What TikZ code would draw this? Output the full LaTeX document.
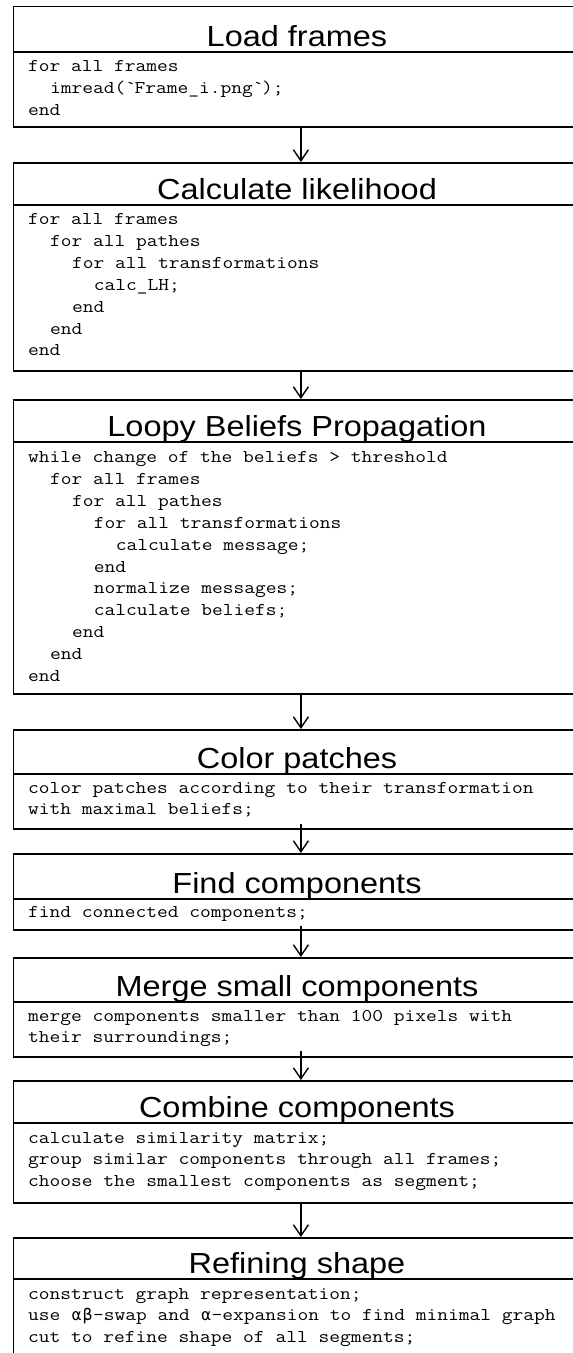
\documentclass[tikz,border=0pt]{standalone}
\usepackage{fontspec}
\newfontfamily\titlefont{Liberation Sans}[FakeStretch=1.12]
\newfontfamily\codefont{Latin Modern Mono}[FakeStretch=1.16]
\newfontfamily\greekfont{DejaVu Sans Mono}
\usetikzlibrary{arrows.meta}
\newcommand\gk[1]{\makebox[10.96pt]{\greekfont\fontsize{16}{20}\selectfont #1}}

\begin{document}
\begin{tikzpicture}[x=1pt, y=-1pt, >={Straight Barb[length=11pt,width=15pt]},
  stepbox/.style={draw, line width=1.8pt, minimum width=575pt,
                  anchor=north west, inner sep=0pt},
  divider/.style={line width=1.8pt},
  ttl/.style={font=\titlefont\fontsize{29}{34}\selectfont, anchor=base, inner sep=0pt},
  code/.style={font=\codefont\fontsize{18}{22}\selectfont, anchor=base west, inner sep=0pt},
  flow/.style={->, line width=1.4pt}]
  \useasboundingbox (0,0) rectangle (573,1353);
  \fill[white] (0,0) rectangle (573,1353);
  \clip (0,0) rectangle (573,1353);

  % Load frames
  \node[stepbox, minimum height=120.5pt] (b1) at (12.5,5.5) {};
  \draw[divider] (b1.west |- 0,52) -- (b1.east |- 0,52);
  \node[ttl] (t1) at (297,46) {Load frames};
  \foreach \ind/\txt [count=\k from 0] in {0/{for all frames},
      2/{imread(\textasciigrave Frame\_i.png\textasciigrave);}, 0/{end}}
    \node[code] (c1-\k) at (28+\ind*10.96, 71.5+\k*21.9) {\txt};

  % Calculate likelihood
  \node[stepbox, minimum height=208pt] (b2) at (12.5,162) {};
  \draw[divider] (b2.west |- 0,205) -- (b2.east |- 0,205);
  \node[ttl] (t2) at (297,199) {Calculate likelihood};
  \foreach \ind/\txt [count=\k from 0] in {0/{for all frames}, 2/{for all pathes},
      4/{for all transformations}, 6/{calc\_LH;}, 4/{end}, 2/{end}, 0/{end}}
    \node[code] (c2-\k) at (28+\ind*10.96, 224.5+\k*21.9) {\txt};

  % Loopy Beliefs Propagation
  \node[stepbox, minimum height=294pt] (b3) at (12.5,399) {};
  \draw[divider] (b3.west |- 0,442) -- (b3.east |- 0,442);
  \node[ttl] (t3) at (297,436) {Loopy Beliefs Propagation};
  \foreach \ind/\txt [count=\k from 0] in {0/{while change of the beliefs > threshold},
      2/{for all frames}, 4/{for all pathes}, 6/{for all transformations},
      8/{calculate message;}, 6/{end}, 6/{normalize messages;},
      6/{calculate beliefs;}, 4/{end}, 2/{end}, 0/{end}}
    \node[code] (c3-\k) at (28+\ind*10.96, 462.5+\k*21.9) {\txt};

  % Color patches
  \node[stepbox, minimum height=99pt] (b4) at (12.5,729) {};
  \draw[divider] (b4.west |- 0,774) -- (b4.east |- 0,774);
  \node[ttl] (t4) at (297,768) {Color patches};
  \foreach \txt [count=\k from 0] in {{color patches according to their transformation},
      {with maximal beliefs;}}
    \node[code] (c4-\k) at (28, 793+\k*21.9) {\txt};

  % Find components
  \node[stepbox, minimum height=76pt] (b5) at (12.5,853) {};
  \draw[divider] (b5.west |- 0,899) -- (b5.east |- 0,899);
  \node[ttl] (t5) at (297,893) {Find components};
  \node[code] (c5-0) at (28,917.5) {find connected components;};

  % Merge small components
  \node[stepbox, minimum height=99pt] (b6) at (12.5,957) {};
  \draw[divider] (b6.west |- 0,1002) -- (b6.east |- 0,1002);
  \node[ttl] (t6) at (297,996) {Merge small components};
  \foreach \txt [count=\k from 0] in {{merge components smaller than 100 pixels with},
      {their surroundings;}}
    \node[code] (c6-\k) at (28, 1021+\k*21.9) {\txt};

  % Combine components
  \node[stepbox, minimum height=122pt] (b7) at (12.5,1080) {};
  \draw[divider] (b7.west |- 0,1123) -- (b7.east |- 0,1123);
  \node[ttl] (t7) at (297,1117) {Combine components};
  \foreach \txt [count=\k from 0] in {{calculate similarity matrix;},
      {group similar components through all frames;},
      {choose the smallest components as segment;}}
    \node[code] (c7-\k) at (28, 1143+\k*21.9) {\txt};

  % Refining shape (runs off the page)
  \node[stepbox, minimum height=170pt] (b8) at (12.5,1237) {};
  \draw[divider] (b8.west |- 0,1279) -- (b8.east |- 0,1279);
  \node[ttl] (t8) at (297,1273) {Refining shape};
  \foreach \txt [count=\k from 0] in {{construct graph representation;},
      {use \gk{α}\gk{β}-swap and \gk{α}-expansion to find minimal graph},
      {cut to refine shape of all segments;}}
    \node[code] (c8-\k) at (28, 1299+\k*21.9) {\txt};

  % arrows between the steps
  \foreach \a/\b/\s in {b1/b2/0, b2/b3/0, b3/b4/0, b4/b5/6, b5/b6/5, b6/b7/7, b7/b8/0}
    \draw[flow] ([yshift=\s pt]\a.south) -- (\b.north);
\end{tikzpicture}
\end{document}
